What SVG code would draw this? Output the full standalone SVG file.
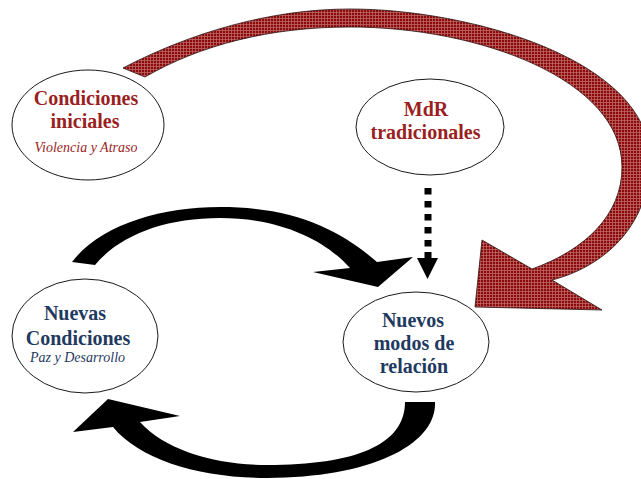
<svg xmlns="http://www.w3.org/2000/svg" width="641" height="479" viewBox="0 0 641 479">
<style>
.node{fill:#fff;stroke:#000;stroke-width:0.9}
.t{font-family:"Liberation Serif","Times New Roman",serif;font-weight:bold;font-size:20px;text-anchor:middle}
.s{font-family:"Liberation Serif","Times New Roman",serif;font-style:italic;font-size:14px;text-anchor:middle}
.red{fill:#9a1f1f}
.navy{fill:#1f3a60}
.blk{fill:#000}
</style>
<defs>
<pattern id="hatch" width="3" height="3" patternUnits="userSpaceOnUse">
<rect width="3" height="3" fill="#8a0b0b"/>
<path d="M0,0.5H3M0.5,0V3" stroke="#c06464" stroke-width="0.8"/>
</pattern>
</defs>
<rect width="641" height="479" fill="#fff"/>
<g id="connectors">
<path id="red-arrow" d="M123,68 C190,33 270,9 350,9 C470,9 650,60 650,160 C650,220 610,265 552,280 L602,310 L475,307 L482,240 L532,269 C585,250 622,215 622,167 C622,80 480,27 350,27 C270,27 200,45 145,77 Z" fill="url(#hatch)" stroke="#2a1010" stroke-width="0.8"/>
<path id="top-arrow" class="blk" d="M72,262 C100,225 160,207 220,207 C295,207 340,230 377,262 L413,257 L378,287 L313,272 L350,268 C325,240 280,218 220,218 C165,218 120,235 95,265 Z"/>
<path id="bottom-arrow" class="blk" d="M405,402 L435,402 C437,445 370,478 267,478 C200,478 140,460 113,427 L73,432 L108,399 L180,416 L140,422 C165,450 215,465 267,465 C355,465 405,445 405,402 Z"/>
<g id="dashed-arrow" class="blk">
<rect x="424.5" y="188" width="7" height="6.5"/>
<rect x="424.5" y="201" width="7" height="6.5"/>
<rect x="424.5" y="214" width="7" height="6.5"/>
<rect x="424.5" y="227" width="7" height="6.5"/>
<rect x="424.5" y="240" width="7" height="6.5"/>
<rect x="424.5" y="252" width="7" height="7"/>
<path d="M417,258 L438,258 L427.5,279 Z"/>
</g>
</g>
<g id="node-condiciones-iniciales">
<ellipse class="node" cx="88" cy="125" rx="76" ry="55"/>
<text class="t red" x="86" y="105">Condiciones</text>
<text class="t red" x="85" y="128">iniciales</text>
<text class="s red" x="86" y="152">Violencia y Atraso</text>
</g>
<g id="node-mdr">
<ellipse class="node" cx="430" cy="127" rx="74" ry="48"/>
<text class="t red" x="426" y="116">MdR</text>
<text class="t red" x="425.5" y="139">tradicionales</text>
</g>
<g id="node-nuevas-condiciones">
<ellipse class="node" cx="85" cy="336" rx="73" ry="57"/>
<text class="t navy" x="75" y="320">Nuevas</text>
<text class="t navy" x="78" y="345">Condiciones</text>
<text class="s navy" x="77.5" y="362">Paz y Desarrollo</text>
</g>
<g id="node-nuevos-modos">
<ellipse class="node" cx="416" cy="342" rx="73" ry="50"/>
<text class="t navy" x="413" y="327">Nuevos</text>
<text class="t navy" x="414" y="350">modos de</text>
<text class="t navy" x="414" y="373">relación</text>
</g>
</svg>
